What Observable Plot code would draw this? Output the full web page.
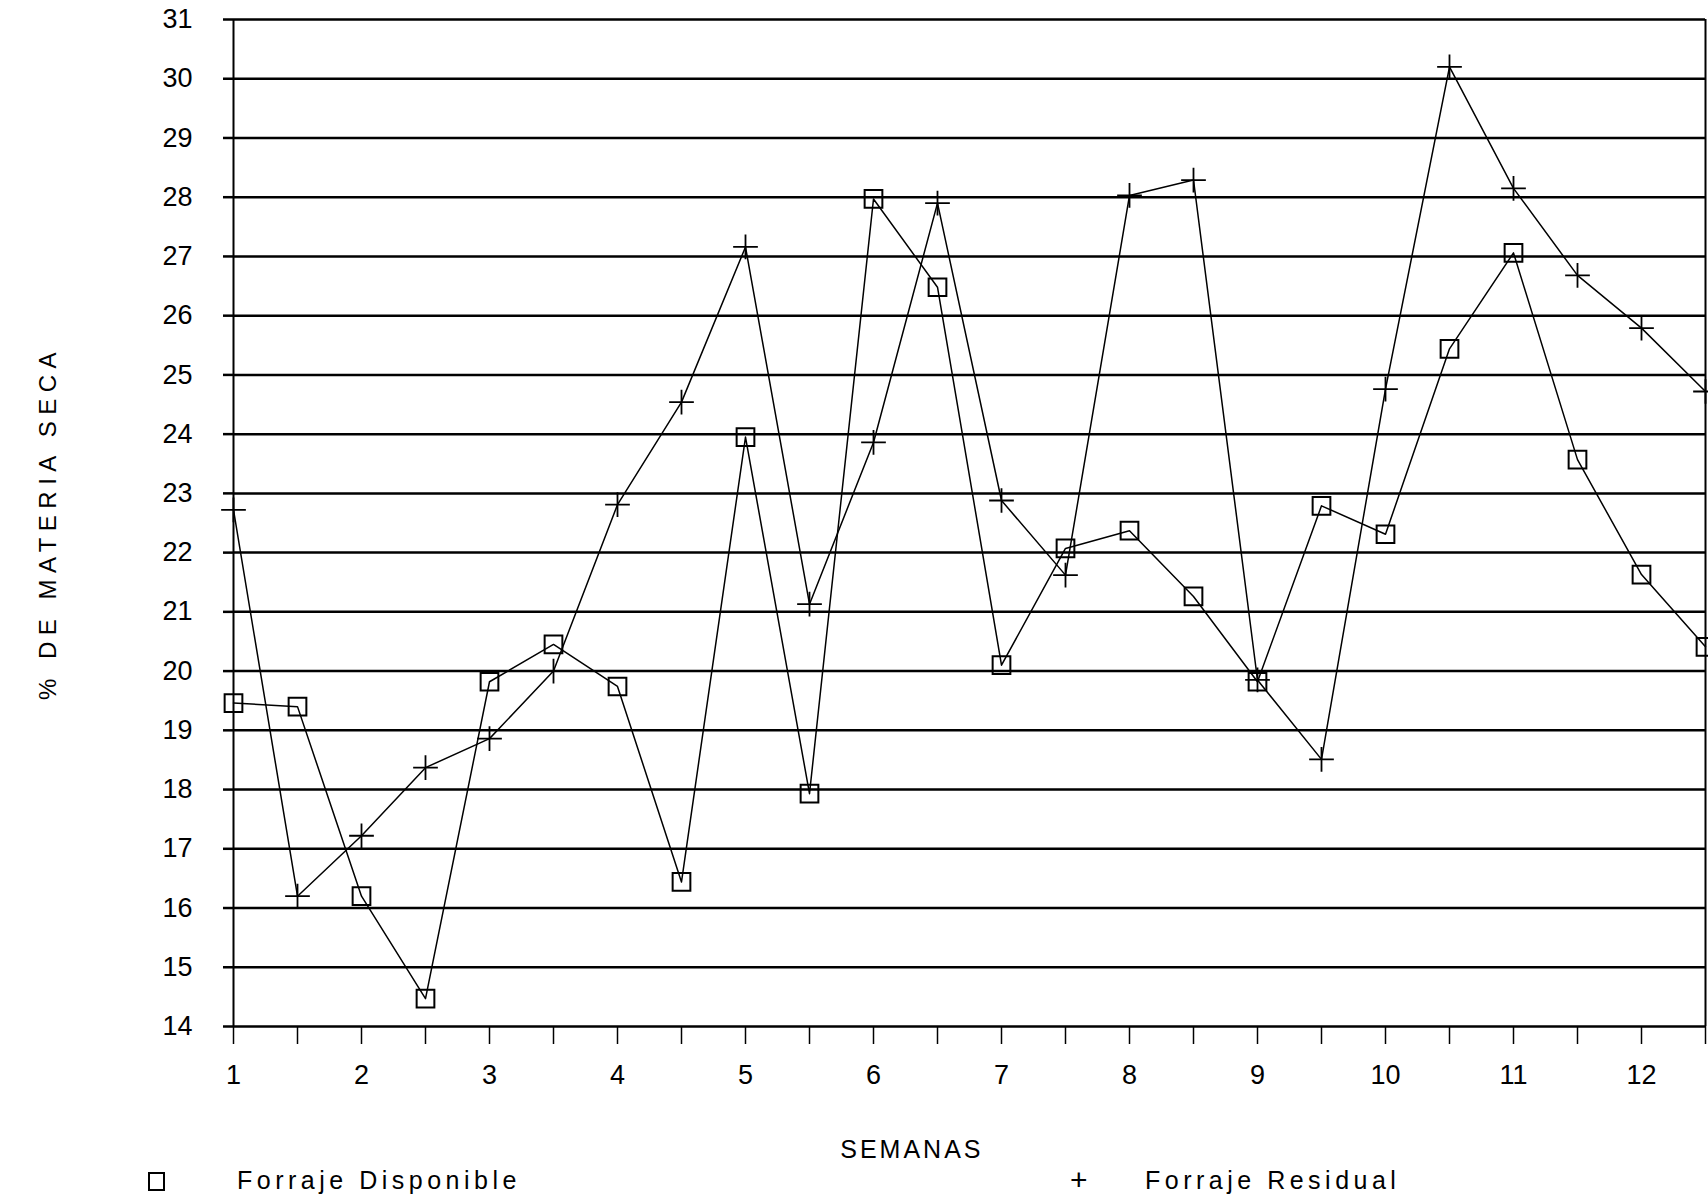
<!DOCTYPE html>
<html>
<head>
<meta charset="utf-8">
<script src="https://cdn.jsdelivr.net/npm/d3@7"></script>
<script src="https://cdn.jsdelivr.net/npm/@observablehq/plot@0.6"></script>
<style>
  html, body { margin: 0; padding: 0; background: white; }
  #chart { position: relative; width: 1708px; }
  #legend { position: relative; width: 1708px; height: 37px; font-family: "Liberation Sans", sans-serif; font-size: 25px; letter-spacing: 4.5px; color: black; }
  #legend .item { position: absolute; top: 4px; white-space: nowrap; }
  #legend .sq { position: absolute; top: 10px; width: 13px; height: 15px; border: 2px solid black; }
  #legend .pl { position: absolute; top: 1px; font-size: 30px; }
</style>
</head>
<body>
<div id="chart"></div>
<div id="legend"></div>
<script>
// semanas (half-week sampling)
const weeks = [1, 1.5, 2, 2.5, 3, 3.5, 4, 4.5, 5, 5.5, 6, 6.5, 7, 7.5, 8, 8.5, 9, 9.5, 10, 10.5, 11, 11.5, 12, 12.5];
const disponible = [19.46, 19.40, 16.2, 14.47, 19.82, 20.45, 19.74, 16.44, 23.95, 17.93, 27.97, 26.48, 20.1, 22.07, 22.37, 21.26, 19.82, 22.79, 22.31, 25.44, 27.06, 23.57, 21.63, 20.41];
const residual = [22.72, 16.2, 17.22, 18.37, 18.86, 20.0, 22.81, 24.54, 27.16, 21.13, 23.86, 27.9, 22.88, 21.62, 28.03, 28.29, 19.85, 18.51, 24.76, 30.2, 28.15, 26.68, 25.79, 24.72];
const yTicks = [14, 15, 16, 17, 18, 19, 20, 21, 22, 23, 24, 25, 26, 27, 28, 29, 30, 31];
const xLabels = [1, 2, 3, 4, 5, 6, 7, 8, 9, 10, 11, 12];
const seriesNames = ["Forraje Disponible", "Forraje Residual"];
const xTitle = "SEMANAS";
const yTitle = "% DE MATERIA SECA";

const rows = weeks.map((w, i) => ({w, disp: disponible[i], res: residual[i]}));
const xDomain = [weeks[0], weeks[weeks.length - 1]];
const fmt = d3.format("d");

const chart = Plot.plot({
  width: 1708,
  height: 1162,
  marginTop: 19,
  marginLeft: 233,
  marginRight: 3,
  marginBottom: 136,
  style: {fontFamily: "Liberation Sans, sans-serif", fontSize: "26px", color: "black", background: "white"},
  x: {domain: xDomain},
  y: {domain: [yTicks[0], yTicks[yTicks.length - 1]]},
  marks: [
    Plot.gridY(yTicks, {stroke: "black", strokeOpacity: 1, strokeWidth: 2.5}),
    Plot.axisY(yTicks, {tickSize: 10, strokeWidth: 2.5, tickPadding: 31, fontSize: 27, tickFormat: fmt,
      label: yTitle, labelAnchor: "center", labelArrow: "none", labelOffset: 195}),
    Plot.axisX(weeks, {tickSize: 18, strokeWidth: 1.5, tickFormat: () => "", label: null}),
    Plot.axisX(xLabels, {tickSize: 0, tickPadding: 38, fontSize: 27, tickFormat: fmt, label: null}),
    Plot.ruleX(xDomain, {stroke: "black", strokeWidth: 2}),
    Plot.text([xTitle], {x: 6.3, y: yTicks[0], text: d => d, dy: 123, lineAnchor: "middle", fontSize: 25, fill: "black"}),
    Plot.line(rows, {x: "w", y: "disp", stroke: "black", strokeWidth: 1.5}),
    Plot.line(rows, {x: "w", y: "res", stroke: "black", strokeWidth: 1.5}),
    Plot.dot(rows, {x: "w", y: "disp", symbol: "square", r: 10, stroke: "black", strokeWidth: 2, fill: "none"}),
    Plot.dot(rows, {x: "w", y: "res", symbol: "plus", r: 8, stroke: "black", strokeWidth: 1.8})
  ]
});
document.getElementById("chart").appendChild(chart);

// letter spacing for titles
chart.querySelectorAll("text").forEach(t => {
  if (t.textContent === xTitle) t.setAttribute("letter-spacing", "3");
});
chart.querySelectorAll("g[aria-label='y-axis label'] text").forEach(t => {
  t.setAttribute("letter-spacing", "6.5");
  t.setAttribute("font-size", "24");
});

const legend = document.getElementById("legend");
legend.innerHTML =
  `<span class="sq" style="left:148px"></span><span class="item" style="left:237px">${seriesNames[0]}</span>` +
  `<span class="pl" style="left:1070px">+</span><span class="item" style="left:1145px">${seriesNames[1]}</span>`;
</script>
</body>
</html>
